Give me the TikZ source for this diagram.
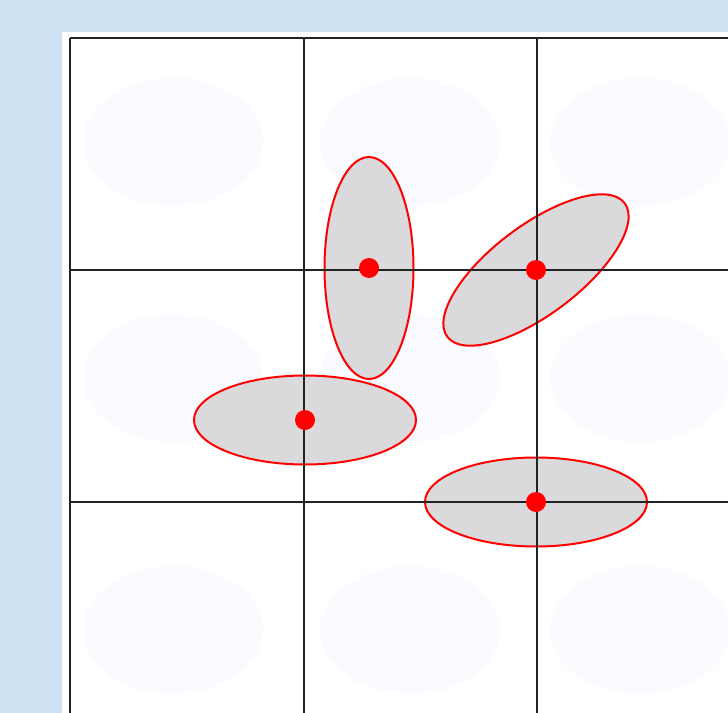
\documentclass[tikz,border=0pt]{standalone}
\usepackage{xcolor}
\usepackage{tikz}
\usetikzlibrary{shapes.geometric}

\definecolor{pagebg}{RGB}{207,226,243}
\definecolor{gridink}{RGB}{34,34,34}
\definecolor{blobtint}{RGB}{250,251,255}
\definecolor{spreadfill}{RGB}{218,218,220}
\definecolor{spreadred}{RGB}{255,0,0}

\begin{document}
\begin{tikzpicture}[
  x=0.75pt, y=-0.75pt,
  cellline/.style={draw=gridink, line width=2.2pt},
  blob/.style={fill=blobtint, draw=none},
  spread/.style={ellipse, draw=spreadred, line width=1.5pt, fill=spreadfill,
                 minimum width=166.5pt, minimum height=66.75pt, inner sep=0pt},
  mean/.style={circle, fill=spreadred, minimum size=15pt, inner sep=0pt}
]
  % Background and panel
  \fill[pagebg] (0,0) rectangle (728,713);
  \useasboundingbox (0,0) rectangle (728,713);
  \fill[white] (62,32) rectangle (728,713);

  % Faint blobs in the cells
  \foreach \cx in {173,410,640}
    \foreach \cy in {142,378,630}
      \fill[blob] (\cx,\cy) ellipse [x radius=90, y radius=-64];

  % Spreads
  \node[spread, rotate=90] (tall) at (369,268) {};
  \node[spread, rotate=37] (tilted) at (536,270) {};
  \node[spread] (left) at (305,420) {};
  \node[spread] (low) at (536,502) {};

  % Grid, over the spreads
  \foreach \gx in {70,304,537}
    \draw[cellline] (\gx,38) -- (\gx,713);
  \foreach \gy in {38,270,502}
    \draw[cellline] (70,\gy) -- (728,\gy);

  % Means
  \node[mean] (talldot) at (tall.center) {};
  \node[mean] (tilteddot) at (tilted.center) {};
  \node[mean] (leftdot) at (left.center) {};
  \node[mean] (lowdot) at (low.center) {};
\end{tikzpicture}
\end{document}
